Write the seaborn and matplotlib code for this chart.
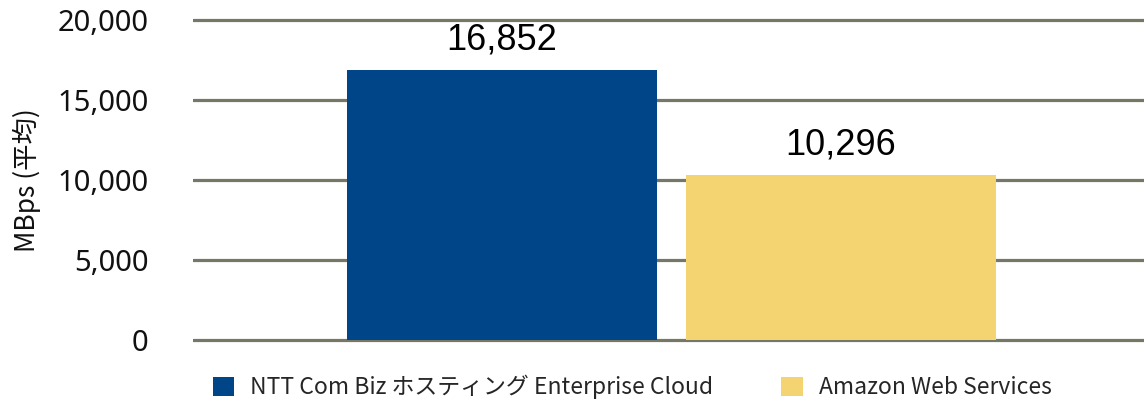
import pandas as pd
import seaborn as sns
import matplotlib.pyplot as plt

# Datos del gráfico
servicios = ['NTT Com Biz ホスティング Enterprise Cloud', 'Amazon Web Services']
mbps = [16852, 10296]
colores = ['#004587', '#f4d470']
ticks_y = [0, 5000, 10000, 15000, 20000]

df = pd.DataFrame({'servicio': servicios, 'mbps': mbps})

sns.set_style('white')
plt.rcParams['font.family'] = ['Noto Sans CJK JP', 'DejaVu Sans']

fig = plt.figure(figsize=(11.44, 4.0), dpi=100)
ax = fig.add_axes([193 / 1144, 0.142, 1 - 193 / 1144, 0.816])

sns.barplot(data=df, x='servicio', y='mbps', hue='servicio', palette=colores,
            width=0.914, saturation=1, linewidth=0, ax=ax, legend=True, zorder=3)

ax.set_xlim(-0.912, 1.894)
ax.set_ylim(-200, 20200)
ax.set_yticks(ticks_y)
ax.set_yticklabels([f'{v:,}' for v in ticks_y], family=['Noto Sans', 'DejaVu Sans'],
                   fontsize=21, color='#111111')
ax.tick_params(axis='y', length=0, pad=32)
ax.set_xticks([])
ax.set_xlabel('')
ax.set_ylabel('MBps (平均)', fontsize=19, color='#111111')
ax.yaxis.set_label_coords(-0.160, 0.50)

ax.yaxis.grid(True, color='#777766', linewidth=2.3)
ax.set_axisbelow(True)
sns.despine(ax=ax, left=True, bottom=True)

# Etiquetas encima de las barras
for cont in ax.containers:
    ax.bar_label(cont, fmt='{:,.0f}', padding=9, fontsize=26, color='black',
                 family=['Liberation Sans', 'DejaVu Sans'])

sns.move_legend(ax, 'lower left', bbox_to_anchor=(192 / 1144, -0.05),
                bbox_transform=fig.transFigure, ncol=2, frameon=False, title=None,
                fontsize=16.5, handlelength=0.95, handleheight=0.95,
                handletextpad=0.7, columnspacing=2.95)

fig.savefig('out.png', dpi=100)
